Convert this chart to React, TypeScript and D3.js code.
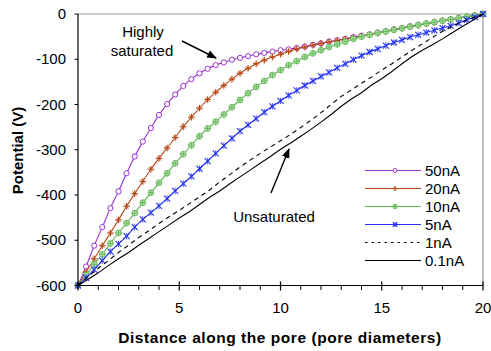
import * as d3 from 'd3';

// distance along the pore (pore diameters) for the marked series
const markedX = [
  0, 0.4, 0.8, 1.2, 1.6, 2, 2.4, 2.8, 3.2, 3.6, 4, 4.4, 4.8, 5.2, 5.6, 6, 6.4, 6.8, 7.2, 7.6,
  8, 8.4, 8.8, 9.2, 9.6, 10, 10.4, 10.8, 11.2, 11.6, 12, 12.4, 12.8, 13.2, 13.6, 14, 14.4, 14.8,
  15.2, 15.6, 16, 16.4, 16.8, 17.2, 17.6, 18, 18.4, 18.8, 19.2, 19.6, 20,
];

const v50nA = [
  -600, -558, -512, -471, -429, -392, -352, -315, -282, -252, -223, -199, -178, -159, -144, -131,
  -121, -113, -107, -101, -97, -93, -89, -86, -83, -80, -78, -75, -72, -68, -65, -61, -58, -55,
  -51, -48, -45, -41, -38, -34, -31, -27, -24, -21, -18, -15, -12, -9, -6, -3, 0,
];

const v20nA = [
  -600, -570, -541, -512, -484, -455, -425, -397, -370, -343, -319, -296, -273, -249, -228, -208,
  -189, -173, -158, -144, -131, -120, -110, -102, -95, -89, -83, -77, -73, -69, -65, -61.5, -58.5,
  -55.5, -52, -48.5, -45.5, -42, -38.5, -35, -31.5, -28, -24.5, -21, -18, -15, -12, -9, -6, -3, 0,
];

const v10nA = [
  -600, -577, -553, -531, -507, -484, -462, -440, -417, -395, -373, -352, -330, -310, -290, -270,
  -253, -238, -222, -206, -190, -175, -161, -148, -135, -124, -113, -104, -95, -87, -80, -73, -67,
  -61, -55, -50, -46, -42, -38.5, -35, -31.5, -28, -24.5, -21, -18, -15, -12, -9, -6, -3, 0,
];

const v5nA = [
  -600, -583, -565, -545, -525, -508, -491, -471, -454, -439, -424, -408, -391, -375, -359, -342,
  -325, -308, -291, -275, -259, -245, -231, -217, -204, -192, -180, -169, -158, -148, -138, -129,
  -119, -110, -101, -92, -84, -77, -70, -63, -57, -51, -46, -41, -36, -31, -26, -20, -13, -7, 0,
];

// unmarked series
const lineX = [
  0, 0.5, 1, 1.5, 2, 2.5, 3, 3.5, 4, 4.5, 5, 5.5, 6, 6.5, 7, 7.5, 8, 8.5, 9, 9.5, 10, 10.5, 11,
  11.5, 12, 12.5, 13, 13.5, 14, 14.5, 15, 15.5, 16, 16.5, 17, 17.5, 18, 18.5, 19, 19.5, 20,
];

const v1nA = [
  -600, -580, -562, -545, -527, -511, -494, -479, -463, -448, -434, -419, -404, -389, -371, -355,
  -338, -323, -308, -294, -280, -266, -251, -235, -218, -200, -182, -168, -153, -139, -124, -110,
  -95, -80, -66, -52, -38, -27, -17, -8, 0,
];

const v01nA = [
  -600, -586, -572, -556, -541, -527, -511, -496, -481, -466, -451, -437, -421, -405, -391, -375,
  -360, -345, -330, -315, -299, -285, -270, -255, -239, -222, -204, -188, -174, -157, -143, -127,
  -110, -94, -80, -68, -55, -41, -27, -14, 0,
];

const yTicks = [0, -100, -200, -300, -400, -500, -600];
const xMajorTicks = [0, 5, 10, 15, 20];
const xMinorTicks = [1, 2, 3, 4, 6, 7, 8, 9, 11, 12, 13, 14, 16, 17, 18, 19];

type Series = {
  name: string;
  xs: number[];
  ys: number[];
  color: string;
  marker: 'circle' | 'plus' | 'dotcircle' | 'cross' | 'none';
  dash?: string;
};

const series: Series[] = [
  { name: '50nA', xs: markedX, ys: v50nA, color: '#9933CC', marker: 'circle' },
  { name: '20nA', xs: markedX, ys: v20nA, color: '#B84A18', marker: 'plus' },
  { name: '10nA', xs: markedX, ys: v10nA, color: '#5DB551', marker: 'dotcircle' },
  { name: '5nA', xs: markedX, ys: v5nA, color: '#2633F2', marker: 'cross' },
  { name: '1nA', xs: lineX, ys: v1nA, color: '#000000', marker: 'none', dash: '4.5,4' },
  { name: '0.1nA', xs: lineX, ys: v01nA, color: '#000000', marker: 'none' },
];

const W = 491;
const H = 351;
const FONT = 'Liberation Sans, Arial, sans-serif';

function Marker({ kind, x, y, color, s = 1 }: { kind: Series['marker']; x: number; y: number; color: string; s?: number }) {
  if (kind === 'circle') {
    return <circle cx={x} cy={y} r={2.6 * s} fill="#fff" stroke={color} strokeWidth={1} />;
  }
  if (kind === 'dotcircle') {
    const r = 2.9 * s;
    return (
      <g stroke={color} strokeWidth={0.9}>
        <circle cx={x} cy={y} r={r} fill="#bfe3b8" />
        <line x1={x - r} x2={x + r} y1={y} y2={y} />
        <line x1={x} x2={x} y1={y - r} y2={y + r} />
      </g>
    );
  }
  if (kind === 'plus') {
    const a = 3.3 * s;
    const b = 2.2 * s;
    return (
      <g stroke={color} strokeWidth={1.2}>
        <line x1={x - a} x2={x + a} y1={y} y2={y} />
        <line x1={x} x2={x} y1={y - a} y2={y + a} />
        <line x1={x - b} x2={x + b} y1={y - b} y2={y + b} strokeWidth={0.8} />
      </g>
    );
  }
  if (kind === 'cross') {
    const a = 3 * s;
    return (
      <g stroke={color} strokeWidth={1.1}>
        <line x1={x - a} x2={x + a} y1={y - a} y2={y + a} />
        <line x1={x - a} x2={x + a} y1={y + a} y2={y - a} />
        <line x1={x} x2={x} y1={y - a * 1.1} y2={y + a * 1.1} strokeWidth={0.8} />
      </g>
    );
  }
  return null;
}

export default function App() {
  const x = d3.scaleLinear().domain([0, 20]).range([78, 483]);
  const y = d3.scaleLinear().domain([-600, 0]).range([285.5, 14]);

  const smooth = d3
    .line<[number, number]>()
    .x((d) => x(d[0]))
    .y((d) => y(d[1]))
    .curve(d3.curveCatmullRom.alpha(0.5));
  const straight = d3
    .line<[number, number]>()
    .x((d) => x(d[0]))
    .y((d) => y(d[1]));

  const legendX0 = 365;
  const legendX1 = 421;
  const legendY0 = 176;
  const legendStep = 18;

  return (
    <svg
      width={W}
      height={H}
      style={{ position: 'absolute', left: 0, top: 0, background: '#fff' }}
      fontFamily={FONT}
    >
      <defs>
        <marker id="arrow" viewBox="0 0 10 10" refX="9" refY="5" markerWidth="7" markerHeight="7" orient="auto">
          <path d="M0,1 L10,5 L0,9 z" fill="#000" />
        </marker>
      </defs>

      {/* plot frame */}
      <line x1={x(0)} x2={x(20)} y1={y(0)} y2={y(0)} stroke="#9a9a9a" strokeWidth={1.2} />
      <line x1={x(20)} x2={x(20)} y1={y(0)} y2={y(-600)} stroke="#9a9a9a" strokeWidth={1.2} />

      {/* series */}
      {series.map((s) => {
        const pts = s.xs.map((v, i) => [v, s.ys[i]] as [number, number]);
        return (
          <g key={s.name}>
            <path
              d={(s.marker === 'none' ? straight(pts) : smooth(pts)) || ''}
              fill="none"
              stroke={s.color}
              strokeWidth={1.1}
              strokeDasharray={s.dash}
            />
            {s.marker !== 'none' &&
              pts.map((p, i) => <Marker key={i} kind={s.marker} x={x(p[0])} y={y(p[1])} color={s.color} />)}
          </g>
        );
      })}

      {/* axes */}
      <line x1={x(0)} x2={x(20)} y1={y(-600)} y2={y(-600)} stroke="#000" strokeWidth={1.2} />
      <line x1={x(0)} x2={x(0)} y1={y(0)} y2={y(-600)} stroke="#000" strokeWidth={1.2} />
      {yTicks.map((t) => (
        <g key={t}>
          <line x1={x(0) - 3.5} x2={x(0)} y1={y(t)} y2={y(t)} stroke="#000" />
          <text x={66} y={y(t) + 5} textAnchor="end" fontSize={15} fill="#000">
            {t}
          </text>
        </g>
      ))}
      {xMinorTicks.map((t) => (
        <line key={t} x1={x(t)} x2={x(t)} y1={y(-600)} y2={y(-600) + 4.5} stroke="#000" />
      ))}
      {xMajorTicks.map((t) => (
        <g key={t}>
          <line x1={x(t)} x2={x(t)} y1={y(-600) - 4} y2={y(-600) + 5} stroke="#000" strokeWidth={1.2} />
          <text x={x(t)} y={313} textAnchor="middle" fontSize={15} fill="#000">
            {t}
          </text>
        </g>
      ))}

      <text x={280} y={343} textAnchor="middle" fontSize={15.5} fontWeight="bold" letterSpacing={0.55} fill="#000">
        Distance along the pore (pore diameters)
      </text>
      <text transform="translate(23,150.5) rotate(-90)" textAnchor="middle" fontSize={15} fontWeight="bold" fill="#000">
        Potential (V)
      </text>

      {/* annotations */}
      <text x={143} y={37} textAnchor="middle" fontSize={15} fill="#000">Highly</text>
      <text x={142} y={55.5} textAnchor="middle" fontSize={15} fill="#000">saturated</text>
      <line x1={182} y1={41} x2={216} y2={58} stroke="#000" strokeWidth={1.4} markerEnd="url(#arrow)" />

      <text x={274} y={221.5} textAnchor="middle" fontSize={15} fill="#000">Unsaturated</text>
      <line x1={271} y1={193} x2={289} y2={149} stroke="#000" strokeWidth={1.4} markerEnd="url(#arrow)" />

      {/* legend */}
      {series.map((s, i) => {
        const ly = legendY0 + i * legendStep;
        const cy = ly - 5.5;
        return (
          <g key={s.name}>
            <line
              x1={legendX0}
              x2={legendX1}
              y1={cy}
              y2={cy}
              stroke={s.color}
              strokeWidth={1.1}
              strokeDasharray={s.dash ? '2.5,4' : undefined}
            />
            <Marker kind={s.marker} x={(legendX0 + legendX1) / 2 + 2} y={cy} color={s.color} s={0.75} />
            <text x={425} y={ly} fontSize={15} fill="#000">
              {s.name}
            </text>
          </g>
        );
      })}
    </svg>
  );
}
